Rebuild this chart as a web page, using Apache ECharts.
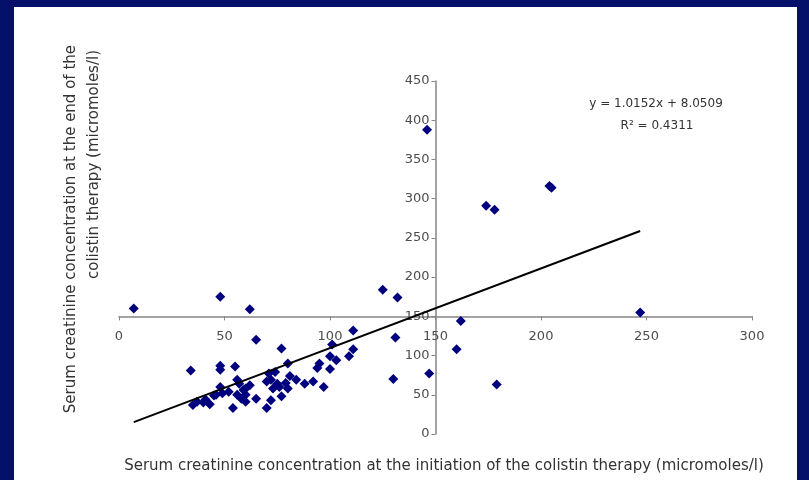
<!DOCTYPE html>
<html>
<head>
<meta charset="utf-8">
<title>Serum creatinine before and after colistin therapy</title>
<script src="https://cdn.jsdelivr.net/npm/echarts@6/dist/echarts.min.js"></script>
<style>
  html, body { margin: 0; padding: 0; background: #04106a; }
  #chart { width: 809px; height: 480px; }
</style>
</head>
<body>
<div id="chart"></div>
<script>
// Serum creatinine (micromoles/l) at the start (x) and end (y) of colistin therapy
const initCreatinine = [
  7, 48, 62, 125, 132, 146, 174, 178, 204, 205, 247, 162, 160, 147, 179, 131, 130,
  111, 111, 109, 101, 100, 103, 100, 95, 94, 97, 92, 88, 84, 81, 80, 77, 65,
  71, 74, 70, 72, 75, 73, 76, 79, 80, 77, 72, 70, 65, 60, 60, 60, 57, 59, 56,
  54, 56, 55, 48, 48, 34, 48, 49, 46, 52, 45, 35, 37, 40, 43, 41, 62, 58
];
const endCreatinine = [
  160, 175, 159, 184, 174, 388, 291, 286, 316, 314, 155, 144, 108, 77, 63, 123, 70,
  132, 108, 99, 114, 99, 94, 83, 90, 84, 60, 67, 64, 69, 74, 90, 109, 120,
  77, 79, 67, 69, 64, 58, 60, 65, 58, 48, 43, 33, 45, 58, 50, 41, 64, 56, 50,
  33, 69, 86, 87, 82, 81, 60, 52, 50, 54, 49, 37, 41, 40, 38, 44, 62, 45
];

// Linear fit reported on the chart
const slope = 1.0152;
const intercept = 8.0509;
const rSquared = 0.4311;

// Axis ranges and the point where the two axes cross
const xRange = { min: 0, max: 300, step: 50 };
const yRange = { min: 0, max: 450, step: 50 };
const cross = { x: 150, y: 150 };

const xTitle = 'Serum creatinine concentration at the initiation of the colistin therapy (micromoles/l)';
const yTitleLines = ['Serum creatinine concentration at the end of the', 'colistin therapy (micromoles/l)'];

const points = initCreatinine.map((x, i) => [x, endCreatinine[i]]);
const fitX0 = Math.min(...initCreatinine);
const fitX1 = Math.max(...initCreatinine);
const fitLine = [fitX0, fitX1].map(x => [x, slope * x + intercept]);

// Plot area
const grid = { left: 119, right: 57, top: 81, bottom: 46 };
const W = 809, H = 480;
const gridW = W - grid.left - grid.right;
const gridH = H - grid.top - grid.bottom;
// Shift the axis lines inward so they cross at (cross.x, cross.y)
const xAxisOffset = -(cross.y - yRange.min) / (yRange.max - yRange.min) * gridH;
const yAxisOffset = -(cross.x - xRange.min) / (xRange.max - xRange.min) * gridW;

const axisColor = '#858585';
const labelFont = { color: '#4d4d4d', fontSize: 13, fontFamily: 'DejaVu Sans' };
const titleFont = { fill: '#333', fontSize: 15, fontFamily: 'DejaVu Sans' };

const chart = echarts.init(document.getElementById('chart'), null, { renderer: 'canvas' });
chart.setOption({
  backgroundColor: '#04106a',
  animation: false,
  grid: Object.assign({ containLabel: false }, grid),
  xAxis: {
    type: 'value',
    position: 'bottom',
    offset: xAxisOffset,
    min: xRange.min,
    max: xRange.max,
    interval: xRange.step,
    axisLine: { onZero: false, lineStyle: { color: axisColor, width: 1.5 } },
    axisTick: { show: true, length: 4, lineStyle: { color: axisColor } },
    axisLabel: Object.assign({ margin: 14 }, labelFont),
    splitLine: { show: false }
  },
  yAxis: {
    type: 'value',
    position: 'left',
    offset: yAxisOffset,
    min: yRange.min,
    max: yRange.max,
    interval: yRange.step,
    axisLine: { onZero: false, lineStyle: { color: axisColor, width: 1.5 } },
    axisTick: { show: true, length: 4, lineStyle: { color: axisColor } },
    axisLabel: Object.assign({ margin: 6 }, labelFont),
    splitLine: { show: false }
  },
  graphic: [
    { type: 'rect', z: -10, silent: true, shape: { x: 14, y: 7, width: 783, height: 473 }, style: { fill: '#ffffff' } },
    {
      type: 'text', x: 444, y: 466, silent: true,
      style: Object.assign({ text: xTitle, align: 'center', verticalAlign: 'middle' }, titleFont)
    },
    {
      type: 'text', x: 71, y: 45, rotation: Math.PI / 2, silent: true,
      style: Object.assign({ text: yTitleLines[0], align: 'right', verticalAlign: 'middle' }, titleFont)
    },
    {
      type: 'text', x: 94, y: 50, rotation: Math.PI / 2, silent: true,
      style: Object.assign({ text: yTitleLines[1], align: 'right', verticalAlign: 'middle' }, titleFont)
    },
    {
      type: 'text', x: 656, y: 104, silent: true,
      style: { text: 'y = ' + slope.toFixed(4) + 'x + ' + intercept.toFixed(4), fill: '#333', fontSize: 12, fontFamily: 'DejaVu Sans', align: 'center', verticalAlign: 'middle' }
    },
    {
      type: 'text', x: 657, y: 126, silent: true,
      style: { text: 'R\u00b2 = ' + rSquared.toFixed(4), fill: '#333', fontSize: 12, fontFamily: 'DejaVu Sans', align: 'center', verticalAlign: 'middle' }
    }
  ],
  series: [
    {
      type: 'scatter',
      data: points,
      symbol: 'diamond',
      symbolSize: 10,
      itemStyle: { color: '#00007f', opacity: 1 },
      z: 3
    },
    {
      type: 'line',
      data: fitLine,
      symbol: 'none',
      lineStyle: { color: '#000', width: 2 },
      z: 4
    }
  ]
});
</script>
</body>
</html>
